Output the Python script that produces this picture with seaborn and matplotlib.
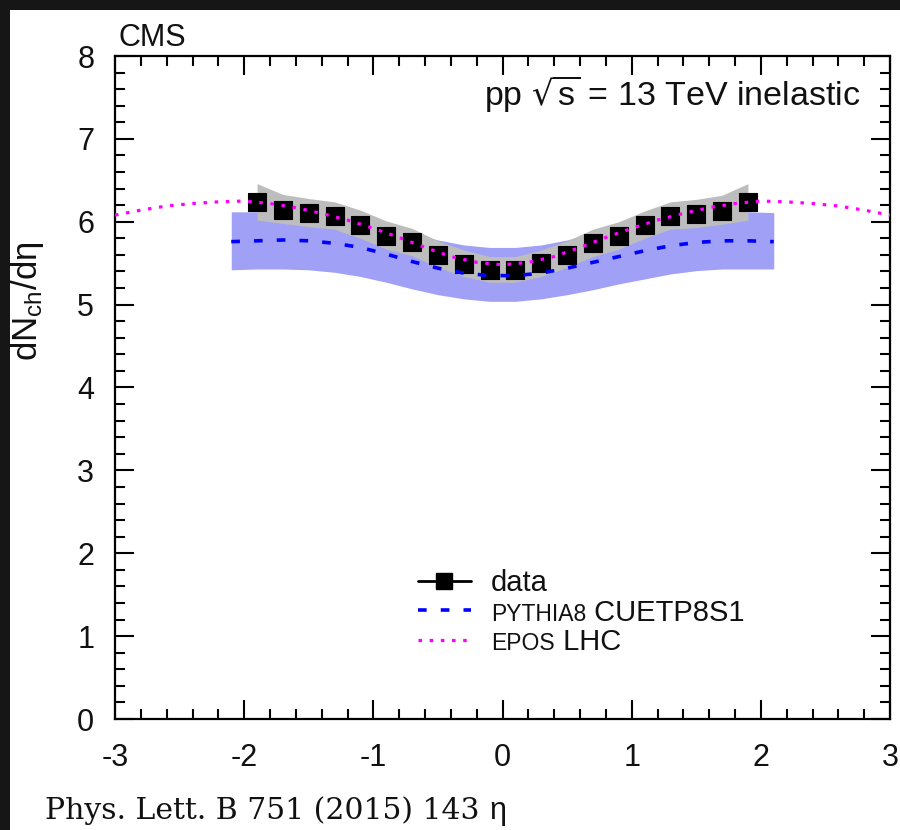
import numpy as np
import pandas as pd
import matplotlib
matplotlib.use("Agg")
import matplotlib.pyplot as plt
from matplotlib.lines import Line2D
from matplotlib.patches import Rectangle
from matplotlib.ticker import MultipleLocator
import seaborn as sns

# ---------------- data ----------------
eta_data = [-1.9, -1.7, -1.5, -1.3, -1.1, -0.9, -0.7, -0.5, -0.3, -0.1,
            0.1, 0.3, 0.5, 0.7, 0.9, 1.1, 1.3, 1.5, 1.7, 1.9]
dndeta_data = [6.24, 6.14, 6.10, 6.07, 5.96, 5.83, 5.75, 5.60, 5.49, 5.42,
               5.42, 5.50, 5.60, 5.74, 5.83, 5.96, 6.07, 6.09, 6.13, 6.24]
syst_high = [6.46, 6.33, 6.28, 6.24, 6.14, 6.01, 5.92, 5.77, 5.66, 5.58,
             5.58, 5.66, 5.77, 5.91, 6.00, 6.13, 6.24, 6.27, 6.32, 6.46]
syst_low = [6.02, 5.98, 5.94, 5.91, 5.80, 5.67, 5.59, 5.45, 5.34, 5.27,
            5.27, 5.34, 5.45, 5.58, 5.67, 5.80, 5.91, 5.93, 5.97, 6.02]

eta_pythia = [-2.1, -1.9, -1.7, -1.5, -1.3, -1.1, -0.9, -0.7, -0.5, -0.3, -0.1,
              0.1, 0.3, 0.5, 0.7, 0.9, 1.1, 1.3, 1.5, 1.7, 1.9, 2.1]
pythia = [5.76, 5.77, 5.78, 5.77, 5.74, 5.69, 5.61, 5.52, 5.44, 5.38, 5.35,
          5.35, 5.38, 5.44, 5.51, 5.58, 5.65, 5.71, 5.75, 5.77, 5.77, 5.76]
pythia_high = [6.12, 6.12, 6.13, 6.12, 6.09, 6.03, 5.95, 5.86, 5.78, 5.72, 5.69,
               5.69, 5.72, 5.78, 5.86, 5.93, 6.00, 6.06, 6.10, 6.12, 6.12, 6.11]
pythia_low = [5.42, 5.43, 5.43, 5.42, 5.39, 5.34, 5.27, 5.19, 5.12, 5.07, 5.04,
              5.04, 5.07, 5.12, 5.18, 5.25, 5.31, 5.37, 5.41, 5.43, 5.43, 5.43]

eta_epos = [-3.0, -2.8, -2.6, -2.4, -2.2, -2.0, -1.8, -1.6, -1.4, -1.2, -1.0,
            -0.8, -0.6, -0.4, -0.2, 0.0, 0.2, 0.4, 0.6, 0.8, 1.0, 1.2, 1.4,
            1.6, 1.8, 2.0, 2.2, 2.4, 2.6, 2.8, 3.0]
epos = [6.08, 6.14, 6.19, 6.22, 6.24, 6.25, 6.22, 6.17, 6.10, 6.02, 5.92,
        5.81, 5.69, 5.58, 5.51, 5.48, 5.51, 5.58, 5.69, 5.81, 5.92, 6.02, 6.10,
        6.17, 6.22, 6.25, 6.24, 6.22, 6.19, 6.14, 6.08]

x_ticks = [-3, -2, -1, 0, 1, 2, 3]
y_ticks = [0, 1, 2, 3, 4, 5, 6, 7, 8]

# ---------------- style ----------------
sns.set_theme(style="ticks")
plt.rcParams['font.family'] = ['Liberation Sans Narrow', 'Liberation Sans', 'DejaVu Sans']
plt.rcParams['axes.unicode_minus'] = False
plt.rcParams['mathtext.default'] = 'regular'

W, H = 900, 830
fig = plt.figure(figsize=(W / 100, H / 100), dpi=100, facecolor='#161616')
fig.add_artist(Rectangle((10 / W, 0), 1 - 10 / W, 1 - 10 / H,
                         transform=fig.transFigure, facecolor='white',
                         edgecolor='none', zorder=-10))

ax_l, ax_r, ax_t, ax_b = 115, 890, 56, 719
ax = fig.add_axes([ax_l / W, 1 - ax_b / H, (ax_r - ax_l) / W, (ax_b - ax_t) / H])
ax.set_facecolor('white')

# bands
ax.fill_between(eta_pythia, pythia_low, pythia_high, color='#a0a0f6',
                linewidth=0, zorder=1)
ax.fill_between(eta_data, syst_low, syst_high, color='#bdbdbd',
                linewidth=0, zorder=2)

# data squares
sns.scatterplot(x=eta_data, y=dndeta_data, marker='s', s=170, color='black',
                edgecolor='black', linewidth=0.8, ax=ax, zorder=4, legend=False)

# model curves
sns.lineplot(x=eta_pythia, y=pythia, color='#0000ff', linewidth=2.6,
             linestyle=(0, (2.4, 3.9)), ax=ax, zorder=5, legend=False)
sns.lineplot(x=eta_epos, y=epos, color='#ff00ff', linewidth=2.3,
             linestyle=(0, (1.1, 2.4)), ax=ax, zorder=6, legend=False)

# axes
ax.set_xlim(-3, 3)
ax.set_ylim(0, 8)
ax.set_xticks(x_ticks)
ax.set_yticks(y_ticks)
ax.xaxis.set_minor_locator(MultipleLocator(0.2))
ax.yaxis.set_minor_locator(MultipleLocator(0.2))
ax.tick_params(which='both', direction='in', top=True, right=True,
               width=1.5, color='black')
ax.tick_params(which='major', length=14)
ax.tick_params(which='minor', length=7)
ax.tick_params(axis='x', which='major', pad=17, labelsize=22, labelcolor='#111111')
ax.tick_params(axis='y', which='major', pad=15, labelsize=22, labelcolor='#111111')
for sp in ax.spines.values():
    sp.set_linewidth(1.6)
    sp.set_color('black')

ax.set_ylabel(r"dN$_\mathregular{ch}$/dη", fontsize=25, color='#111111')
ax.yaxis.set_label_coords((46 - ax_l) / (ax_r - ax_l), 0.63)
ax.set_xlabel("η", fontsize=22, color='#111111')
ax.xaxis.set_label_coords((498 - ax_l) / (ax_r - ax_l), -(796 - ax_b) / (ax_b - ax_t))

# legend
handles = [
    Line2D([], [], color='black', linewidth=2, marker='s', markersize=12,
           markerfacecolor='black', markeredgecolor='black'),
    Line2D([], [], color='#0000ff', linewidth=2.6, linestyle=(0, (2.4, 3.9))),
    Line2D([], [], color='#ff00ff', linewidth=2.3, linestyle=(0, (1.1, 2.4))),
]
labels = ["data", "PYTHIA8 CUETP8S1", "EPOS LHC"]
big, small = 21, 16.5
leg = ax.legend(handles, labels, loc='lower left',
                bbox_to_anchor=((418 - ax_l) / (ax_r - ax_l), (ax_b - 656) / (ax_b - ax_t)),
                frameon=False, fontsize=big, handlelength=1.8, handletextpad=0.7,
                labelspacing=0.05, borderpad=0, borderaxespad=0)
for t in leg.get_texts():
    t.set_color('#111111')

pieces = {1: ("PYTHIA8", " CUETP8S1"), 2: ("EPOS", " LHC")}
for i, (sc, rest) in pieces.items():
    t = leg.get_texts()[i]
    t.set_text("")
    a1 = ax.annotate(sc, xy=(0, 0), xycoords=t, va='baseline', ha='left',
                     fontsize=small, color='#111111', zorder=7)
    ax.annotate(rest, xy=(1, 0), xycoords=a1, xytext=(0, small * 0.212),
                textcoords='offset points', va='baseline', ha='left',
                fontsize=big, color='#111111', zorder=8)

# annotations
fig.text(118 / W, 1 - 46 / H, "CMS", fontsize=22, va='baseline', ha='left',
         color='#111111')
fig.text(860 / W, 1 - 106 / H, r"pp $\sqrt{\mathregular{s}}$ = 13 TeV inelastic",
         fontsize=24.5, va='baseline', ha='right', color='#111111')
fig.text(45 / W, 1 - 819 / H, "Phys. Lett. B 751 (2015) 143", fontsize=21.5,
         family='DejaVu Serif', va='baseline', ha='left', color='#111111')

fig.savefig("out.png", dpi=100, facecolor=fig.get_facecolor())
